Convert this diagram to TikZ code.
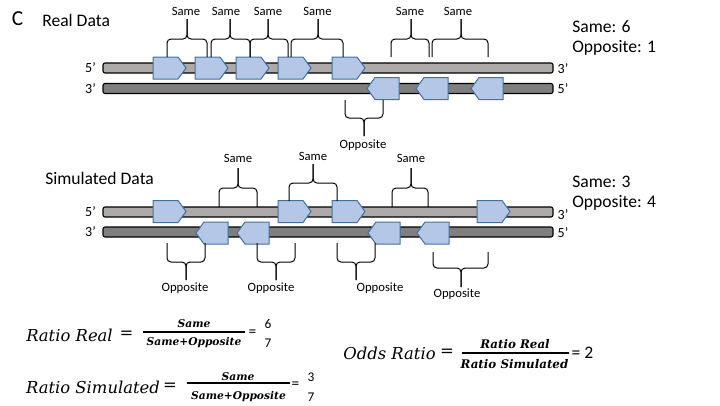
\documentclass[tikz,border=0pt]{standalone}
\usepackage{fontspec}
\setmainfont{Carlito}
\newfontfamily\cambria{DejaVu Serif}
\definecolor{pentfill}{RGB}{180,199,231}
\definecolor{pentdraw}{RGB}{65,113,156}
\definecolor{strandA}{RGB}{174,170,170}
\definecolor{strandB}{RGB}{127,127,127}
\newcommand\pentR[3]{%
  \draw[pent] (#2,#3-11) -- (#2+25,#3-11) -- (#2+33,#3) -- (#2+25,#3+11) -- (#2,#3+11) -- cycle;
  \coordinate (#1) at (#2+13,#3);}
\newcommand\pentL[3]{%
  \draw[pent] (#2,#3) -- (#2+8,#3-11) -- (#2+32,#3-11) -- (#2+32,#3+11) -- (#2+8,#3+11) -- cycle;
  \coordinate (#1) at (#2+19,#3);}
\newcommand\brc[6]{%
  \draw[brcs] (#1,#4) -- (#1,#5) -- (#3,#5) -- (#3,#6);
  \draw[brcs] (#2,#4) -- (#2,#5) -- (#3,#5) -- (#3,#6);}
\begin{document}
\begin{tikzpicture}[x=0.75pt,y=-0.75pt,
  lbl/.style={inner sep=0pt, font=\fontsize{9.5}{11}\selectfont},
  big/.style={inner sep=0pt, font=\fontsize{13.2}{15}\selectfont},
  endlbl/.style={inner sep=0pt, font=\fontsize{10.5}{12}\selectfont},
  mth/.style={inner sep=0pt, font=\cambria\itshape\fontsize{12.3}{14}\selectfont},
  mths/.style={inner sep=0pt, font=\cambria\bfseries\itshape\fontsize{8}{10}\selectfont},
  mthm/.style={inner sep=0pt, font=\cambria\bfseries\itshape\fontsize{8.9}{11}\selectfont},
  smallnum/.style={inner sep=0pt, font=\fontsize{10}{11}\selectfont},
  smalleq/.style={inner sep=0pt, font=\fontsize{11.5}{13}\selectfont},
  strandlight/.style={draw=black, fill=strandA, line width=0.8pt, rounded corners=1.5pt, minimum width=337.5pt, minimum height=7.5pt, inner sep=0pt},
  stranddark/.style={draw=black, fill=strandB, line width=0.8pt, rounded corners=1.5pt, minimum width=337.5pt, minimum height=7.5pt, inner sep=0pt},
  pent/.style={draw=pentdraw, fill=pentfill, line width=0.75pt},
  brcs/.style={draw=black, line width=0.75pt, rounded corners=3pt},
  fracbar/.style={line width=0.9pt}]
\useasboundingbox (0,0) rectangle (720,405);

% ---------- Real data ----------
\node[inner sep=0pt, font=\fontsize{16}{18}\selectfont] (lc) at (17.5,19) {C};
\node[big, anchor=west] (realtitle) at (42,20) {Real Data};
\node[big, anchor=west] (rsame) at (572,27) {Same: 6};
\node[big, anchor=west] (ropp) at (572,48) {Opposite: 1};

\node[strandlight] (rtop) at (328,68) {};
\node[stranddark] (rbot) at (328,88.5) {};
\node[endlbl] (r5a) at (90.5,68) {5’};
\node[endlbl] (r3a) at (90.5,89) {3’};
\node[endlbl] (r3b) at (563,69) {3’};
\node[endlbl] (r5b) at (563,89) {5’};

\pentR{rp1}{153}{68}
\pentR{rp2}{195}{68}
\pentR{rp3}{236}{68}
\pentR{rp4}{278}{68}
\pentR{rp5}{332}{68}
\pentL{rq1}{367}{88.5}
\pentL{rq2}{416}{88.5}
\pentL{rq3}{471}{88.5}

\brc{167}{207}{187}{57}{39}{19}
\brc{211}{250}{230}{57}{39}{19}
\brc{250}{288}{268}{57}{39}{19}
\brc{291}{343}{318}{57}{39}{19}
\brc{391}{429}{411}{57}{39}{19}
\brc{432}{488}{461}{57}{39}{19}
\node[lbl] (rs1) at (186,11) {Same};
\node[lbl] (rs2) at (226,11) {Same};
\node[lbl] (rs3) at (268,11) {Same};
\node[lbl] (rs4) at (317.5,11) {Same};
\node[lbl] (rs5) at (410,11) {Same};
\node[lbl] (rs6) at (458,11) {Same};

\brc{345}{383}{364}{100}{118}{136}
\node[lbl] (ro1) at (363,145) {Opposite};

% ---------- Simulated data ----------
\node[big, anchor=west] (simtitle) at (45,178) {Simulated Data};
\node[big, anchor=west] (ssame) at (572,182) {Same: 3};
\node[big, anchor=west] (sopp) at (572,203) {Opposite: 4};

\node[strandlight] (stop) at (328,212) {};
\node[stranddark] (sbot) at (328,232) {};
\node[endlbl] (s5a) at (90.5,212) {5’};
\node[endlbl] (s3a) at (90.5,232) {3’};
\node[endlbl] (s3b) at (563,215) {3’};
\node[endlbl] (s5b) at (563,233) {5’};

\pentR{sp1}{153}{211.5}
\pentR{sp2}{278}{211.5}
\pentR{sp3}{332}{211.5}
\pentR{sp4}{477}{211.5}
\pentL{sq1}{196}{233}
\pentL{sq2}{237}{233}
\pentL{sq3}{368}{233}
\pentL{sq4}{417}{233}

\brc{219}{257}{238}{207}{188}{168}
\brc{289}{337}{313}{201}{183}{164}
\brc{392}{428}{411}{207}{188}{168}
\node[lbl] (ss1) at (238,158) {Same};
\node[lbl] (ss2) at (313,156) {Same};
\node[lbl] (ss3) at (411,158) {Same};

\brc{167}{205}{186}{243}{262}{280}
\brc{257}{295}{276}{243}{262}{280}
\brc{337}{375}{356}{243}{262}{280}
\brc{433}{488}{461}{252}{268}{287}
\node[lbl] (so1) at (185,288) {Opposite};
\node[lbl] (so2) at (271,288) {Opposite};
\node[lbl] (so3) at (380,288) {Opposite};
\node[lbl] (so4) at (457,294) {Opposite};

% ---------- Formulas ----------
\node[mth] (f1l) at (69.5,335) {Ratio Real};
\node[mth] (f1e) at (126.5,335) {=};
\node[mths] (f1n) at (194,324) {Same};
\node[mths] (f1d) at (194,343) {Same+Opposite};
\draw[fracbar] (143,332) -- (245,332);
\node[smalleq] (f1e2) at (252.5,333) {=};
\node[smallnum] (f1a) at (268,324) {6};
\node[smallnum] (f1b) at (268,343) {7};

\node[mth] (f2l) at (93,387) {Ratio Simulated};
\node[mth] (f2e) at (170,387) {=};
\node[mths] (f2n) at (238,377) {Same};
\node[mths] (f2d) at (238.5,397) {Same+Opposite};
\draw[fracbar] (187,383) -- (290,383);
\node[smalleq] (f2e2) at (295.5,385) {=};
\node[smallnum] (f2a) at (311,377) {3};
\node[smallnum] (f2b) at (311,397) {7};

\node[mth] (f3l) at (389.5,353) {Odds Ratio};
\node[mth] (f3e) at (447,353) {=};
\node[mthm] (f3n) at (515,344) {Ratio Real};
\node[mthm] (f3d) at (514.5,364) {Ratio Simulated};
\draw[fracbar] (462,353) -- (569,353);
\node[big] (f3r) at (582.5,353) {= 2};
\end{tikzpicture}
\end{document}
